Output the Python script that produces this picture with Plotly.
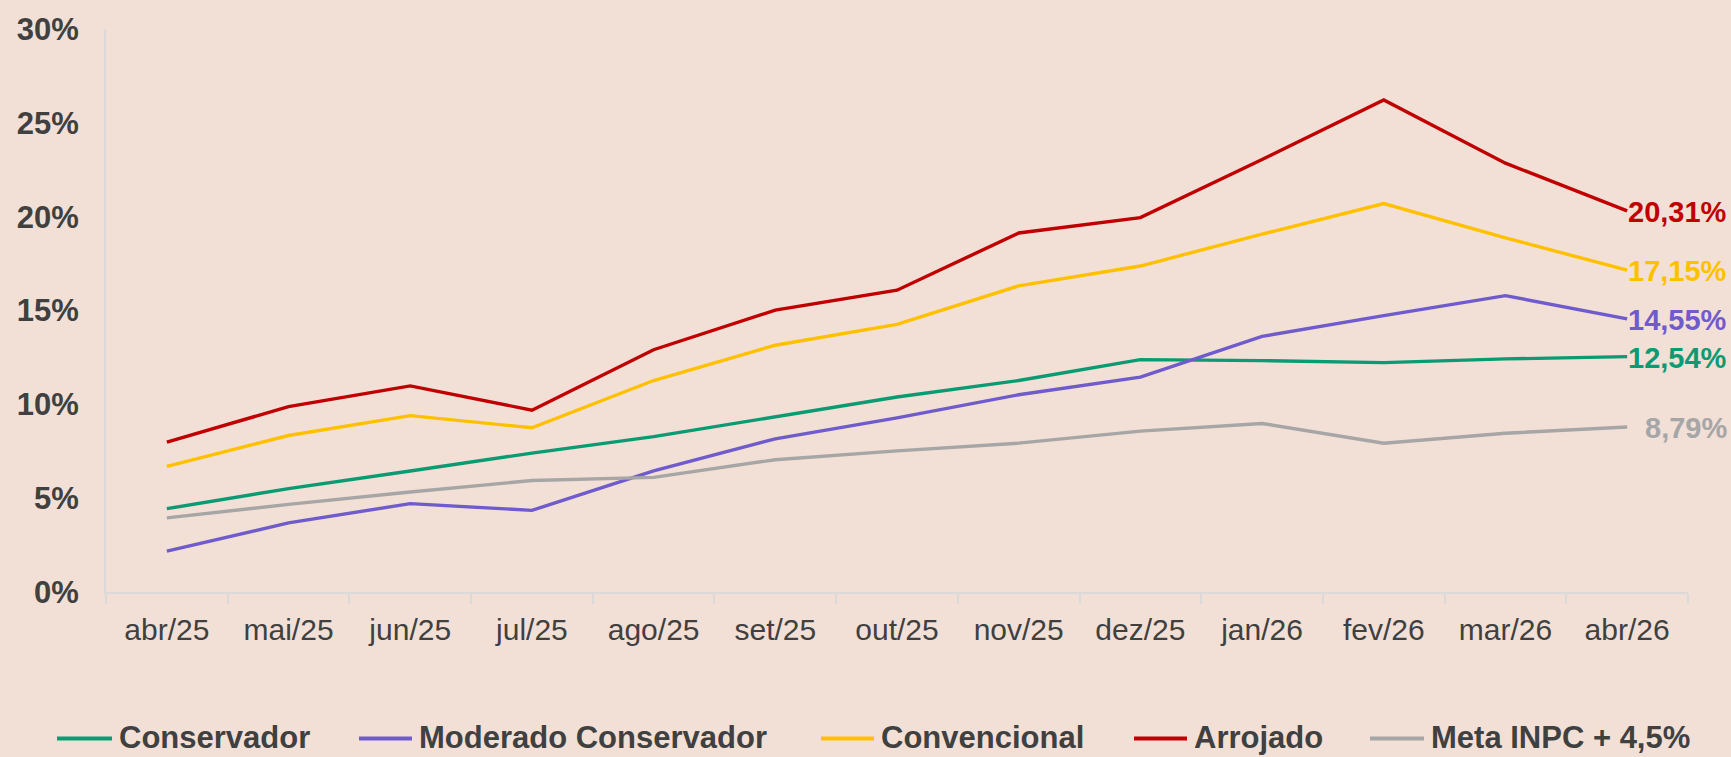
import plotly.graph_objects as go

# ---- data ----
months = ["abr/25", "mai/25", "jun/25", "jul/25", "ago/25", "set/25", "out/25",
          "nov/25", "dez/25", "jan/26", "fev/26", "mar/26", "abr/26"]

conservador = [4.44, 5.51, 6.45, 7.40, 8.28, 9.34, 10.39, 11.27, 12.38, 12.33, 12.22, 12.42, 12.54]
moderado = [2.18, 3.68, 4.71, 4.35, 6.46, 8.16, 9.28, 10.51, 11.45, 13.62, 14.73, 15.79, 14.55]
convencional = [6.69, 8.34, 9.40, 8.75, 11.27, 13.15, 14.26, 16.31, 17.37, 19.07, 20.70, 18.87, 17.15]
arrojado = [7.98, 9.88, 10.98, 9.69, 12.91, 15.02, 16.08, 19.13, 19.95, 23.05, 26.22, 22.85, 20.31]
meta = [3.95, 4.67, 5.33, 5.94, 6.11, 7.05, 7.52, 7.93, 8.57, 8.98, 7.93, 8.46, 8.79]

series_names = ["Conservador", "Moderado Conservador", "Convencional", "Arrojado", "Meta INPC + 4,5%"]
series_values = [conservador, moderado, convencional, arrojado, meta]
series_colors = ["#0B9B72", "#6F5BCB", "#FFC000", "#C00000", "#A6A6A6"]

# ---- layout constants ----
W, H = 1731, 757
ML, MR, MT, MB = 106, 43, 27, 165
PW, PH = W - ML - MR, H - MT - MB
BG = "#F2E0D7"
TXT = "#404040"
AXIS = "#DADADA"
FONT = "Liberation Sans, Arial, sans-serif"

# legend key pixel layout (line start, line end)
legend_keys_px = [(57, 112), (359, 412), (821, 874), (1134, 1187), (1370, 1424)]
legend_y_px = 739


def px_to_paper_x(px):
    return (px - ML) / PW


def px_to_paper_y(py):
    return (H - MB - py) / PH


fig = go.Figure()
for name, vals, col in zip(series_names, series_values, series_colors):
    fig.add_trace(go.Scatter(x=months, y=vals, mode="lines", name=name,
                             line=dict(color=col, width=3.4), showlegend=False))

# end-of-line value labels
for vals, col in zip(series_values, series_colors):
    fig.add_annotation(x=months[-1], y=vals[-1], xref="x", yref="y",
                       text=f"{vals[-1]:.2f}".replace(".", ",") + "%",
                       showarrow=False, xanchor="right", yanchor="middle",
                       xshift=102, yshift=-1,
                       font=dict(family=FONT, size=29, color=col, weight="bold"))

# custom legend
shapes = []
for (x0, x1), name, col in zip(legend_keys_px, series_names, series_colors):
    yy = px_to_paper_y(legend_y_px)
    shapes.append(dict(type="line", xref="paper", yref="paper",
                       x0=px_to_paper_x(x0), x1=px_to_paper_x(x1), y0=yy, y1=yy,
                       line=dict(color=col, width=4)))
    fig.add_annotation(x=px_to_paper_x(x1 + 5), y=yy, xref="paper", yref="paper",
                       text=name, showarrow=False, xanchor="left", yanchor="middle",
                       yshift=1,
                       font=dict(family=FONT, size=31, color=TXT, weight="bold"))

fig.update_layout(
    width=W, height=H,
    margin=dict(l=ML, r=MR, t=MT, b=MB, pad=0),
    paper_bgcolor=BG, plot_bgcolor=BG,
    shapes=shapes,
    showlegend=False,
    font=dict(family=FONT, color=TXT),
    xaxis=dict(type="category", range=[-0.5, len(months) - 0.5],
               showgrid=False, showline=True, linecolor=AXIS, linewidth=2,
               ticks="outside", tickson="boundaries", ticklen=10, tickcolor=AXIS,
               tickwidth=2, ticklabelstandoff=10,
               tickfont=dict(family=FONT, size=30, color=TXT),
               zeroline=False, fixedrange=True),
    yaxis=dict(range=[0, 30], dtick=5, ticksuffix="%", showgrid=False,
               showline=True, linecolor=AXIS, linewidth=2, ticks="",
               zeroline=False, ticklabelstandoff=19,
               tickfont=dict(family=FONT, size=31, color=TXT, weight="bold")),
)

fig.write_html("out.html", config={"displayModeBar": False},
               post_script="document.body.style.margin='0';")
